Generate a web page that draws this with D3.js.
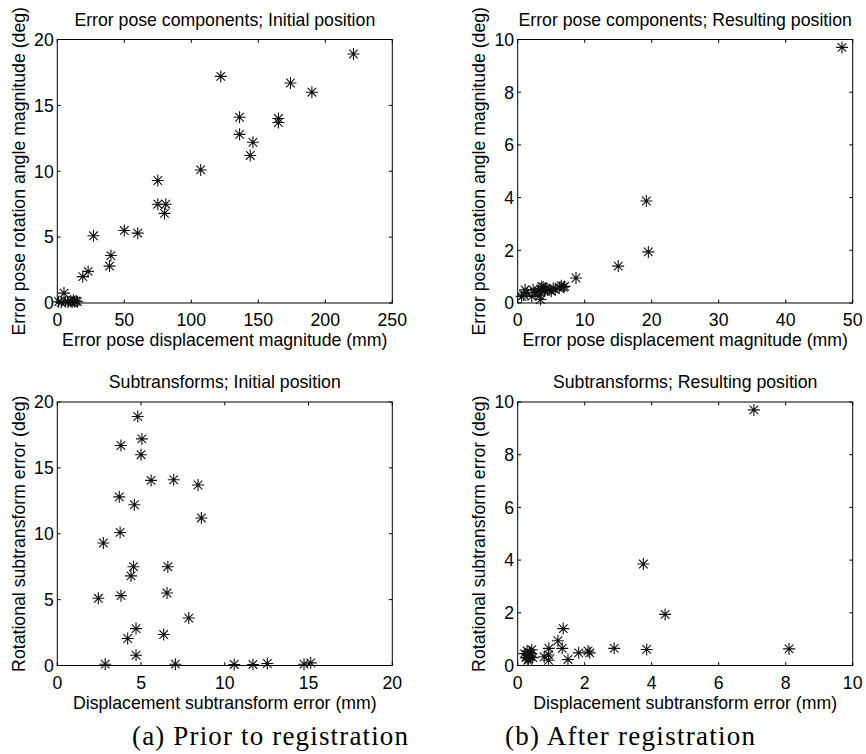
<!DOCTYPE html>
<html>
<head>
<meta charset="utf-8">
<script src="https://cdn.jsdelivr.net/npm/d3@7"></script>
<style>
  body { margin: 0; background: #fff; }
  svg { display: block; }
</style>
</head>
<body>
<script>
// Error pose components, initial position (mm, deg)
const initPoseX = [221, 122, 174, 190, 136, 165, 165, 136, 146, 144, 107, 75, 75, 81, 80, 50, 60, 27, 40, 39, 23, 19, 5,
  1, 3, 6, 8, 10, 11, 12, 13, 14, 15];
const initPoseY = [18.9, 17.2, 16.7, 16.0, 14.1, 14.0, 13.7, 12.8, 12.2, 11.2, 10.1, 9.3, 7.5, 7.5, 6.8, 5.5, 5.3, 5.1, 3.6, 2.8, 2.4, 2.0, 0.75,
  0.1, 0.05, 0.1, 0.08, 0.15, 0.05, 0.2, 0.1, 0.15, 0.1];

// Error pose components, resulting position
const resPoseX = [48.4, 19.2, 19.5, 15.0, 8.7,
  0.6, 0.9, 1.1, 1.4, 2.1, 2.3, 2.6, 3.1, 3.3, 3.5, 3.6, 3.8, 4.0, 4.2, 4.5, 4.8, 5.0, 5.3, 5.6, 6.2, 6.5, 6.8, 7.0, 3.4];
const resPoseY = [9.7, 3.87, 1.94, 1.4, 0.95,
  0.25, 0.3, 0.5, 0.4, 0.25, 0.5, 0.4, 0.45, 0.3, 0.55, 0.63, 0.6, 0.45, 0.55, 0.5, 0.5, 0.45, 0.55, 0.5, 0.6, 0.65, 0.6, 0.63, 0.13];

// Subtransforms, initial position
const initSubX = [4.8, 5.05, 3.8, 5.0, 5.6, 6.95, 8.4, 3.7, 4.6, 8.6, 3.75, 2.75, 4.55, 6.6, 4.4, 6.55, 2.45, 3.8, 7.85, 4.7, 6.35, 4.2, 4.7,
  2.86, 7.05, 10.56, 11.68, 12.54, 14.73, 15.13];
const initSubY = [18.9, 17.2, 16.7, 16.0, 14.05, 14.1, 13.7, 12.8, 12.2, 11.2, 10.1, 9.3, 7.5, 7.5, 6.8, 5.5, 5.1, 5.3, 3.6, 2.8, 2.35, 2.05, 0.78,
  0.1, 0.1, 0.08, 0.08, 0.15, 0.1, 0.2];

// Subtransforms, resulting position
const resSubX = [7.05, 3.75, 4.4, 8.1, 3.85, 2.88, 1.36, 1.2, 1.33, 1.5, 1.82, 2.1, 2.15, 0.93, 0.92, 0.92, 0.79,
  0.2, 0.25, 0.28, 0.3, 0.32, 0.35, 0.38, 0.4, 0.42, 0.45, 0.3];
const resSubY = [9.7, 3.85, 1.94, 0.63, 0.61, 0.65, 1.4, 0.94, 0.65, 0.23, 0.48, 0.55, 0.48, 0.65, 0.4, 0.2, 0.33,
  0.45, 0.3, 0.55, 0.4, 0.25, 0.5, 0.35, 0.45, 0.6, 0.3, 0.2];

const xTicksPose1 = [0, 50, 100, 150, 200, 250];
const yTicks20 = [0, 5, 10, 15, 20];
const xTicksPose2 = [0, 10, 20, 30, 40, 50];
const ticks10 = [0, 2, 4, 6, 8, 10];
const xTicksSub1 = [0, 5, 10, 15, 20];

const W = 866, H = 754;
const font = "'Liberation Sans', Arial, Helvetica, sans-serif";
const fs = 17.7;

const svg = d3.select("body").append("svg")
  .attr("width", W)
  .attr("height", H)
  .attr("font-family", font);

const starPath = (() => {
  const r = 6, d = 4.3;
  return `M${-r},0H${r}M0,${-r}V${r}M${-d},${-d}L${d},${d}M${-d},${d}L${d},${-d}`;
})();

function panel({ left, top, width, height, xDomain, yDomain, xTicks, yTicks, xs, ys, title, xLabel, yLabel }) {
  const x = d3.scaleLinear().domain(xDomain).range([left, left + width]);
  const y = d3.scaleLinear().domain(yDomain).range([top + height, top]);
  const g = svg.append("g");
  const tl = 3.4;

  // box
  g.append("rect")
    .attr("x", left).attr("y", top)
    .attr("width", width).attr("height", height)
    .attr("fill", "none").attr("stroke", "#000").attr("stroke-width", 1);

  // inward ticks on all sides
  const tk = g.append("g").attr("stroke", "#000").attr("stroke-width", 1);
  xTicks.forEach((t) => {
    tk.append("line").attr("x1", x(t)).attr("x2", x(t)).attr("y1", top + height).attr("y2", top + height - tl);
    tk.append("line").attr("x1", x(t)).attr("x2", x(t)).attr("y1", top).attr("y2", top + tl);
  });
  yTicks.forEach((t) => {
    tk.append("line").attr("x1", left).attr("x2", left + tl).attr("y1", y(t)).attr("y2", y(t));
    tk.append("line").attr("x1", left + width).attr("x2", left + width - tl).attr("y1", y(t)).attr("y2", y(t));
  });

  g.selectAll(".xt").data(xTicks).join("text")
    .attr("x", (d) => x(d))
    .attr("y", top + height + 23.2)
    .attr("text-anchor", "middle")
    .attr("font-size", fs)
    .text((d) => d);

  g.selectAll(".yt").data(yTicks).join("text")
    .attr("x", left - 3.5)
    .attr("y", (d) => y(d))
    .attr("dy", "0.36em")
    .attr("text-anchor", "end")
    .attr("font-size", fs)
    .text((d) => d);

  g.append("text")
    .attr("x", left + width / 2)
    .attr("y", top - 14)
    .attr("text-anchor", "middle")
    .attr("font-size", fs)
    .text(title);

  g.append("text")
    .attr("x", left + width / 2)
    .attr("y", top + height + 43.4)
    .attr("text-anchor", "middle")
    .attr("font-size", fs)
    .text(xLabel);

  g.append("text")
    .attr("transform", `translate(${left - 32.5},${top + height / 2}) rotate(-90)`)
    .attr("text-anchor", "middle")
    .attr("font-size", fs)
    .text(yLabel);

  g.append("g")
    .attr("fill", "none")
    .attr("stroke", "#111")
    .attr("stroke-width", 1.1)
    .selectAll("path")
    .data(d3.zip(xs, ys))
    .join("path")
    .attr("transform", (d) => `translate(${x(d[0])},${y(d[1])})`)
    .attr("d", starPath);
}

const L1 = 57.3, L2 = 517.7, T1 = 39.5, T2 = 402, PW = 335, PH = 263.5;

panel({
  left: L1, top: T1, width: PW, height: PH,
  xDomain: [0, 250], yDomain: [0, 20], xTicks: xTicksPose1, yTicks: yTicks20,
  xs: initPoseX, ys: initPoseY,
  title: "Error pose components; Initial position",
  xLabel: "Error pose displacement magnitude (mm)",
  yLabel: "Error pose rotation angle magnitude (deg)",
});

panel({
  left: L2, top: T1, width: PW, height: PH,
  xDomain: [0, 50], yDomain: [0, 10], xTicks: xTicksPose2, yTicks: ticks10,
  xs: resPoseX, ys: resPoseY,
  title: "Error pose components; Resulting position",
  xLabel: "Error pose displacement magnitude (mm)",
  yLabel: "Error pose rotation angle magnitude (deg)",
});

panel({
  left: L1, top: T2, width: PW, height: PH,
  xDomain: [0, 20], yDomain: [0, 20], xTicks: xTicksSub1, yTicks: yTicks20,
  xs: initSubX, ys: initSubY,
  title: "Subtransforms; Initial position",
  xLabel: "Displacement subtransform error (mm)",
  yLabel: "Rotational subtransform error (deg)",
});

panel({
  left: L2, top: T2, width: PW, height: PH,
  xDomain: [0, 10], yDomain: [0, 10], xTicks: ticks10, yTicks: ticks10,
  xs: resSubX, ys: resSubY,
  title: "Subtransforms; Resulting position",
  xLabel: "Displacement subtransform error (mm)",
  yLabel: "Rotational subtransform error (deg)",
});

// subfigure captions
const captions = [
  { text: "(a) Prior to registration", x: 132, len: 276 },
  { text: "(b) After registration", x: 505, len: 250 },
];
svg.selectAll(".cap").data(captions).join("text")
  .attr("x", (d) => d.x)
  .attr("y", 745)
  .attr("font-family", "'Liberation Serif', 'Times New Roman', serif")
  .attr("font-size", 27)
  .attr("textLength", (d) => d.len)
  .attr("lengthAdjust", "spacing")
  .text((d) => d.text);
</script>
</body>
</html>
